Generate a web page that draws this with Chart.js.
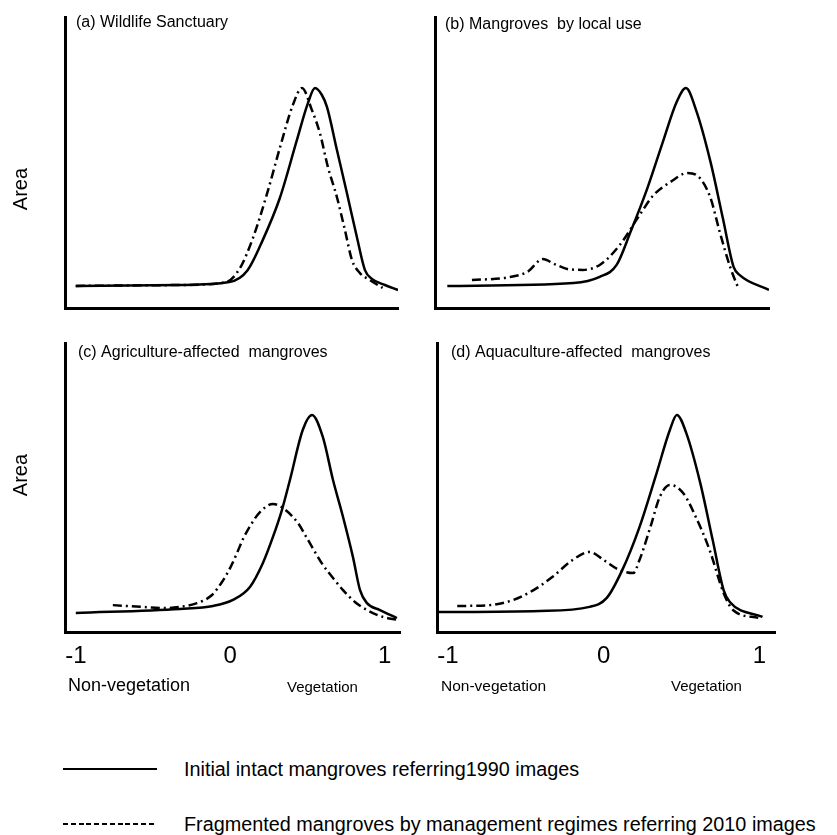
<!DOCTYPE html>
<html>
<head>
<meta charset="utf-8">
<script src="https://cdn.jsdelivr.net/npm/chart.js@4.4.1/dist/chart.umd.min.js"></script>
<style>
  body { margin: 0; background: #fff; }
  #fig { position: relative; width: 837px; height: 835px; font-family: "Liberation Sans", Arial, sans-serif; color: #000; }
  #fig canvas { position: absolute; }
  .txt { position: absolute; white-space: pre; line-height: 1; }
  .area { font-size: 20px; transform: translate(-50%, -50%) rotate(-90deg); }
  .leg { font-size: 20px; transform: scaleX(0.99); transform-origin: left center; }
  .solid { position: absolute; height: 2px; background: #000; }
  .dashed { position: absolute; height: 2px; background: repeating-linear-gradient(to right, #000 0 5px, transparent 5px 7.8px); }
</style>
</head>
<body>
<div id="fig">
  <canvas id="pa" width="418" height="320" style="left:0;top:0"></canvas>
  <canvas id="pb" width="419" height="320" style="left:418px;top:0"></canvas>
  <canvas id="pc" width="418" height="380" style="left:0;top:320px"></canvas>
  <canvas id="pd" width="419" height="380" style="left:418px;top:320px"></canvas>

  <div class="txt area" style="left:20px;top:189px">Area</div>
  <div class="txt area" style="left:20px;top:475px">Area</div>

  <div class="txt" style="left:68px;top:676px;font-size:18px">Non-vegetation</div>
  <div class="txt" style="left:287px;top:679px;font-size:15px">Vegetation</div>
  <div class="txt" style="left:441px;top:678px;font-size:15.5px">Non-vegetation</div>
  <div class="txt" style="left:671px;top:678px;font-size:15px">Vegetation</div>

  <div class="solid" style="left:63px;top:768px;width:94px"></div>
  <div class="txt leg" id="leg1" style="left:184px;top:759px"></div>
  <div class="dashed" style="left:63px;top:823px;width:94px"></div>
  <div class="txt leg" id="leg2" style="left:184px;top:814px"></div>
</div>
<script>
// NDVI-like axis, -1 (non-vegetation) .. 1 (vegetation); y = relative area
const xTicks = [-1, 0, 1];
const seriesNames = ['Initial intact mangroves referring1990 images',
                     'Fragmented mangroves by management regimes referring 2010 images'];
const titles = ['(a) Wildlife Sanctuary', '(b) Mangroves  by local use',
                '(c) Agriculture-affected  mangroves', '(d) Aquaculture-affected  mangroves'];

const aSolid = [[-1.0,0.076],[-0.32,0.079],[0.0,0.089],[0.12,0.13],[0.22,0.235],[0.33,0.378],[0.44,0.575],
  [0.513,0.704],[0.559,0.756],[0.604,0.732],[0.637,0.691],[0.702,0.543],[0.767,0.395],
  [0.832,0.244],[0.884,0.131],[0.93,0.1],[1.015,0.079],[1.1,0.062]];
const aDash = [[-1.0,0.076],[-0.32,0.079],[-0.02,0.089],[0.07,0.137],[0.155,0.241],[0.25,0.399],[0.33,0.55],
  [0.415,0.698],[0.474,0.756],[0.539,0.68],[0.591,0.601],[0.643,0.485],[0.702,0.381],[0.754,0.268],
  [0.8,0.165],[0.852,0.12],[0.917,0.096],[1.0,0.069]];

const bSolid = [[-0.99,0.076],[-0.17,0.086],[0.0,0.107],[0.11,0.148],[0.2,0.261],[0.31,0.412],[0.41,0.57],
  [0.5,0.708],[0.56,0.756],[0.63,0.674],[0.72,0.502],[0.80,0.309],[0.87,0.141],[0.91,0.113],[1.1,0.062]];
const bDash = [[-0.83,0.096],[-0.6,0.105],[-0.47,0.124],[-0.37,0.168],[-0.29,0.15],[-0.2,0.133],[-0.11,0.131],
  [0.0,0.148],[0.13,0.216],[0.26,0.32],[0.35,0.388],[0.46,0.433],[0.57,0.464],[0.65,0.447],[0.72,0.378],
  [0.78,0.261],[0.85,0.137],[0.9,0.069]];

const cSolid = [[-1.0,0.066],[-0.325,0.08],[-0.111,0.09],[0.018,0.111],[0.128,0.156],[0.212,0.239],
  [0.277,0.329],[0.335,0.422],[0.387,0.526],[0.47,0.699],[0.53,0.751],[0.60,0.675],[0.666,0.526],
  [0.731,0.398],[0.795,0.26],[0.841,0.145],[0.886,0.1],[0.97,0.076],[1.08,0.048]];
const cDash = [[-0.76,0.093],[-0.58,0.087],[-0.41,0.083],[-0.325,0.087],[-0.215,0.1],[-0.118,0.128],
  [-0.053,0.173],[0.0,0.222],[0.044,0.273],[0.083,0.322],[0.141,0.377],[0.193,0.415],[0.277,0.443],
  [0.342,0.429],[0.439,0.377],[0.497,0.325],[0.549,0.277],[0.601,0.232],[0.666,0.187],[0.731,0.145],
  [0.808,0.104],[0.886,0.076],[0.99,0.052],[1.08,0.042]];

const dSolid = [[-1.07,0.069],[-0.41,0.073],[-0.09,0.087],[0.02,0.118],[0.12,0.215],[0.23,0.363],[0.34,0.55],
  [0.425,0.699],[0.47,0.751],[0.53,0.689],[0.62,0.516],[0.70,0.318],[0.77,0.145],[0.81,0.104],[1.02,0.052]];
const dDash = [[-0.94,0.09],[-0.73,0.093],[-0.58,0.111],[-0.45,0.145],[-0.33,0.19],[-0.2,0.249],[-0.09,0.277],
  [0.0,0.249],[0.1,0.215],[0.19,0.204],[0.23,0.249],[0.3,0.363],[0.36,0.467],[0.425,0.509],[0.51,0.481],
  [0.6,0.388],[0.68,0.284],[0.77,0.135],[0.83,0.076],[1.0,0.048]];

document.getElementById('leg1').textContent = seriesNames[0];
document.getElementById('leg2').textContent = seriesNames[1];

// draws the "(a) ..." label inside the plot, next to the top of the y axis
const panelLabel = {
  id: 'panelLabel',
  afterDraw(chart, args, opts) {
    const ctx = chart.ctx, area = chart.chartArea;
    ctx.save();
    ctx.font = '16px "Liberation Sans", Arial, sans-serif';
    ctx.fillStyle = '#000';
    ctx.textBaseline = 'middle';
    ctx.fillText(opts.text, area.left + opts.dx, area.top + opts.dy);
    ctx.restore();
  }
};

function toPts(arr) {
  return arr.map(p => ({x: p[0], y: p[1]}));
}

function panel(id, title, solid, dash, o) {
  const line = {borderColor: '#000', borderWidth: 2.5, pointRadius: 0, fill: false,
                cubicInterpolationMode: 'monotone'};
  new Chart(document.getElementById(id), {
    type: 'line',
    data: {
      datasets: [
        Object.assign({label: seriesNames[0], data: toPts(solid)}, line),
        Object.assign({label: seriesNames[1], data: toPts(dash), borderDash: [9, 4, 2, 4]}, line)
      ]
    },
    options: {
      responsive: false,
      animation: false,
      layout: {padding: {left: 0, top: o.top, right: o.right, bottom: 0}},
      plugins: {
        legend: {display: false},
        tooltip: {enabled: false},
        panelLabel: {text: title, dx: o.dx, dy: o.dy}
      },
      scales: {
        x: {
          type: 'linear', min: -1.07, max: 1.1,
          grid: {display: false},
          border: {display: true, color: '#000', width: 3},
          afterBuildTicks: s => { s.ticks = xTicks.map(v => ({value: v})); },
          afterFit: s => { s.height = o.xh; },
          ticks: {display: o.ticks, color: '#000', padding: 2,
                  font: {family: '"Liberation Sans", Arial, sans-serif', size: 24}}
        },
        y: {
          min: 0, max: 1,
          grid: {display: false},
          border: {display: true, color: '#000', width: 3},
          ticks: {display: false},
          afterFit: s => { s.width = o.yw; }
        }
      }
    },
    plugins: [panelLabel]
  });
}

panel('pa', titles[0], aSolid, aDash, {top: 17, right: 20, xh: 12, yw: 65, ticks: false, dx: 11, dy: 6});
panel('pb', titles[1], bSolid, bDash, {top: 17, right: 68, xh: 12, yw: 17, ticks: false, dx: 10, dy: 8});
panel('pc', titles[2], cSolid, cDash, {top: 23, right: 18, xh: 68, yw: 65, ticks: true, dx: 13, dy: 10});
panel('pd', titles[3], dSolid, dDash, {top: 23, right: 62, xh: 68, yw: 19, ticks: true, dx: 14, dy: 10});
</script>
</body>
</html>
